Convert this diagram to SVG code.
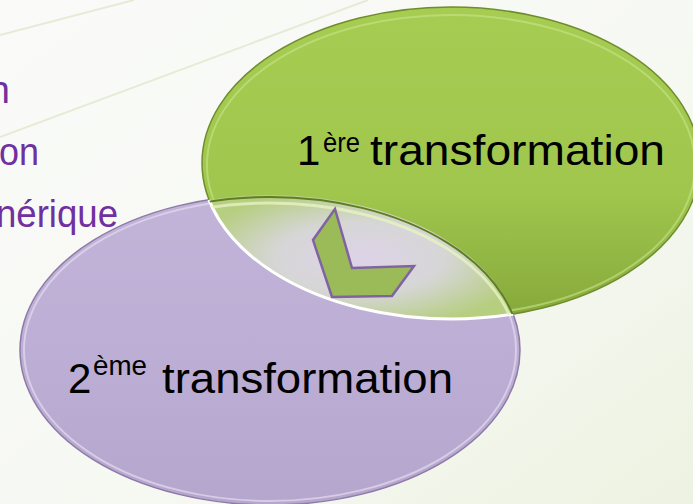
<svg xmlns="http://www.w3.org/2000/svg" width="693" height="504" viewBox="0 0 693 504">
<defs>
<linearGradient id="bg" x1="0" y1="0" x2="1" y2="1">
<stop offset="0" stop-color="#fafbf9"/>
<stop offset="0.6" stop-color="#f6f8f2"/>
<stop offset="1" stop-color="#edf2e1"/>
</linearGradient>
<linearGradient id="gGreen" x1="0" y1="0" x2="0" y2="1">
<stop offset="0" stop-color="#a6cc52"/>
<stop offset="0.6" stop-color="#a0c64d"/>
<stop offset="1" stop-color="#86a83b"/>
</linearGradient>
<linearGradient id="gPurple" x1="0" y1="0" x2="0" y2="1">
<stop offset="0" stop-color="#c2b4d9"/>
<stop offset="0.5" stop-color="#bcaed4"/>
<stop offset="1" stop-color="#b5a6cd"/>
</linearGradient>
<radialGradient id="gLens" cx="360" cy="258" r="170" gradientUnits="userSpaceOnUse" gradientTransform="translate(360 258) scale(1 0.42) translate(-360 -258)">
<stop offset="0" stop-color="#ddd3e8"/>
<stop offset="0.5" stop-color="#d6d6d6"/>
<stop offset="1" stop-color="#b6ce80"/>
</radialGradient>
<clipPath id="clipPurple">
<ellipse cx="270" cy="350" rx="250" ry="155"/>
</clipPath>
<clipPath id="clipGreen">
<ellipse cx="451" cy="163" rx="249" ry="156"/>
</clipPath>
<style>
.main{font-family:"Liberation Sans",Arial,sans-serif;fill:#000000;}
.side{font-family:"Liberation Sans",Arial,sans-serif;fill:#7030a0;font-size:38px;text-anchor:end;}
.bgline{stroke:#e6ebd6;stroke-width:2;fill:none;}
</style>
</defs>
<rect width="693" height="504" fill="url(#bg)"/>
<line class="bgline" x1="0" y1="35" x2="134" y2="0"/>
<line class="bgline" x1="0" y1="137" x2="368" y2="0"/>
<g id="side-text">
<text class="side" x="10" y="103">n</text>
<text class="side" x="39" y="165" textLength="40" lengthAdjust="spacingAndGlyphs">on</text>
<text class="side" x="118" y="227" textLength="122" lengthAdjust="spacingAndGlyphs">nérique</text>
</g>
<g id="node-purple">
<ellipse cx="270" cy="350" rx="250" ry="155" fill="url(#gPurple)" stroke="#8e7aa8" stroke-width="1.5"/>
<ellipse cx="270" cy="350" rx="246" ry="151" fill="none" stroke="#e4dcf0" stroke-width="2" opacity="0.7"/>
<text class="main" y="393"><tspan x="68" font-size="42">2</tspan><tspan x="93" y="375" font-size="27" textLength="54" lengthAdjust="spacingAndGlyphs">ème</tspan><tspan x="162" y="393" font-size="42" textLength="291" lengthAdjust="spacingAndGlyphs">transformation</tspan></text>
</g>
<g id="node-green">
<ellipse cx="451" cy="163" rx="249" ry="156" fill="url(#gGreen)" stroke="#6f8d2e" stroke-width="1.5"/>
<ellipse cx="451" cy="165" rx="244" ry="150" fill="none" stroke="#c8e48a" stroke-width="2" opacity="0.6"/>
<text class="main" y="165"><tspan x="297" font-size="42">1</tspan><tspan x="323" y="152" font-size="27" textLength="37" lengthAdjust="spacingAndGlyphs">ère</tspan><tspan x="370" y="165" font-size="42" textLength="295" lengthAdjust="spacingAndGlyphs">transformation</tspan></text>
</g>
<g id="node-overlap">
<ellipse cx="451" cy="163" rx="249" ry="156" clip-path="url(#clipPurple)" fill="url(#gLens)" stroke="#ffffff" stroke-width="3"/>
<g clip-path="url(#clipGreen)">
<ellipse cx="270" cy="352" rx="250" ry="155" fill="none" stroke="#5f7d25" stroke-width="2"/>
<ellipse cx="270" cy="355" rx="248" ry="152" fill="none" stroke="#e6f3c2" stroke-width="3" opacity="0.8"/>
</g>
</g>
<g id="connectors">
<polygon points="335,209 313,240 332,297 392,296 414,266 352,268" fill="#9bbb59" stroke="#8064a2" stroke-width="2.5" stroke-linejoin="miter"/>
</g>
</svg>
